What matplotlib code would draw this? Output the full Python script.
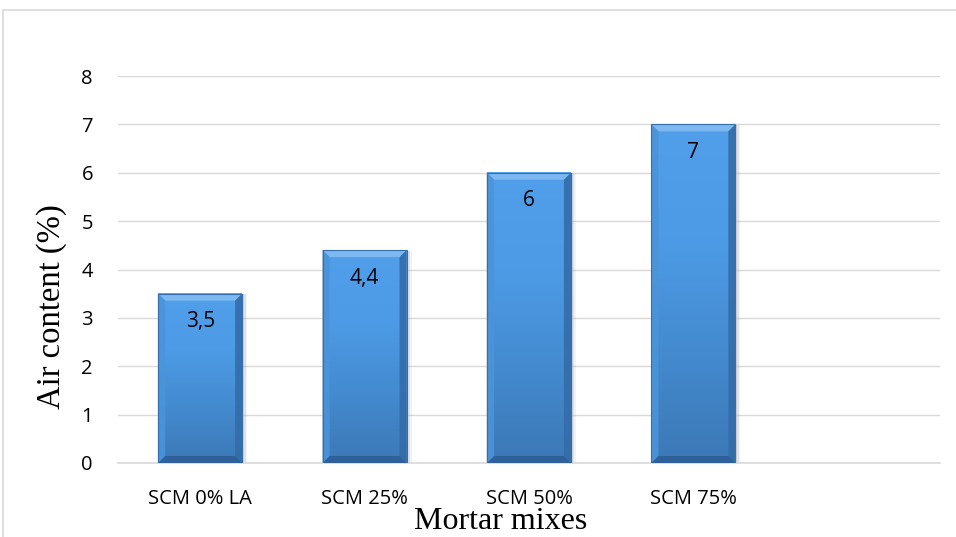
import matplotlib
matplotlib.use("Agg")
import matplotlib.pyplot as plt
import numpy as np
from matplotlib.patches import Polygon, Rectangle
from matplotlib.colors import LinearSegmentedColormap

categories = ["SCM 0% LA", "SCM 25%", "SCM 50%", "SCM 75%", ""]
values = [3.5, 4.4, 6.0, 7.0, None]
labels = ["3,5", "4,4", "6", "7", ""]
yticks = [0, 1, 2, 3, 4, 5, 6, 7, 8]

fig = plt.figure(figsize=(9.56, 5.37), dpi=100)
fig.patch.set_facecolor("white")
# outer chart frame
fig.patches.append(Rectangle((3 / 956, -0.01), 1.0, (537 - 10) / 537 + 0.01,
                             transform=fig.transFigure, fill=False,
                             edgecolor="#D9D9D9", linewidth=1.2))

ax = fig.add_axes([118 / 956, 1 - 463 / 537, (940 - 118) / 956, (463 - 76) / 537])
n = len(categories)
ax.set_xlim(-0.5, n - 0.5)
ax.set_ylim(0, 8)
ax.set_yticks(yticks)
ax.set_yticklabels([str(t) for t in yticks])
ax.set_xticks(range(n))
ax.set_xticklabels(categories)
ax.tick_params(length=0, labelsize=14.5)
ax.tick_params(axis="x", pad=18.5)
ax.tick_params(axis="y", pad=18)
for lab in ax.get_xticklabels() + ax.get_yticklabels():
    lab.set_fontfamily("Open Sans")
ax.grid(axis="y", color="#D9D9D9", linewidth=1)
ax.set_axisbelow(True)
for s in ["top", "right", "left"]:
    ax.spines[s].set_visible(False)
ax.spines["bottom"].set_color("#D9D9D9")
ax.spines["bottom"].set_linewidth(1.2)
ax.set_facecolor("none")

ax.set_ylabel("Air content (%)", fontsize=23.5, family="Liberation Serif", labelpad=10)
ax.set_xlabel("Mortar mixes", fontsize=23, family="Liberation Serif", labelpad=-1)
ax.yaxis.label.set_y(0.403)
ax.xaxis.label.set_x(0.465)

width = 0.51
fig.canvas.draw()
# pixel -> data conversions for bevel size
px_x = 1.0 / (ax.transData.transform((1, 0))[0] - ax.transData.transform((0, 0))[0])
px_y = 1.0 / (ax.transData.transform((0, 1))[1] - ax.transData.transform((0, 0))[1])
bev = 7
bx, by = bev * px_x, bev * px_y

grad = np.linspace(1, 0, 200)[:, None]
cmap = LinearSegmentedColormap.from_list("b", ["#3C78B6", "#448BD0", "#4D9BE6", "#519FEB"])

for i, (v, lab) in enumerate(zip(values, labels)):
    if v is None:
        continue
    x0, x1 = i - width / 2, i + width / 2
    # soft shadow
    for k, a in ((3, 0.15), (2, 0.25), (1, 0.35)):
        ax.add_patch(Rectangle((x0 - k * px_x * 0.3, 0), width + 2 * k * px_x, v - k * px_y * 0.2,
                               facecolor="#B0B0B0", edgecolor="none", alpha=a, zorder=2))
    ax.imshow(grad, extent=(x0, x1, 0, v), aspect="auto",
              cmap=cmap, zorder=3, interpolation="bilinear", vmin=0, vmax=1)
    # bevels
    top = Polygon([(x0, v), (x1, v), (x1 - bx, v - by), (x0 + bx, v - by)],
                  facecolor="#7DB9F0", edgecolor="none", zorder=4)
    left = Polygon([(x0, v), (x0 + bx, v - by), (x0 + bx, by), (x0, 0)],
                   facecolor="#4B94DA", edgecolor="none", alpha=0.9, zorder=4)
    right = Polygon([(x1, v), (x1 - bx, v - by), (x1 - bx, by), (x1, 0)],
                    facecolor="#346DA8", edgecolor="none", alpha=0.9, zorder=4)
    bot = Polygon([(x0, 0), (x1, 0), (x1 - bx, by), (x0 + bx, by)],
                  facecolor="#2F609A", edgecolor="none", zorder=4)
    for p in (top, left, right, bot):
        ax.add_patch(p)
    ax.add_patch(Rectangle((x0, 0), width, v, fill=False, edgecolor="#3470AE",
                           linewidth=0.8, zorder=5))
    ax.text(i, v - 0.58, lab, ha="center", va="center", fontsize=15,
            family="Open Sans", color="black", zorder=6)

ax.set_xlim(-0.5, n - 0.5)
ax.set_ylim(0, 8)
fig.savefig("out.png", dpi=100)
